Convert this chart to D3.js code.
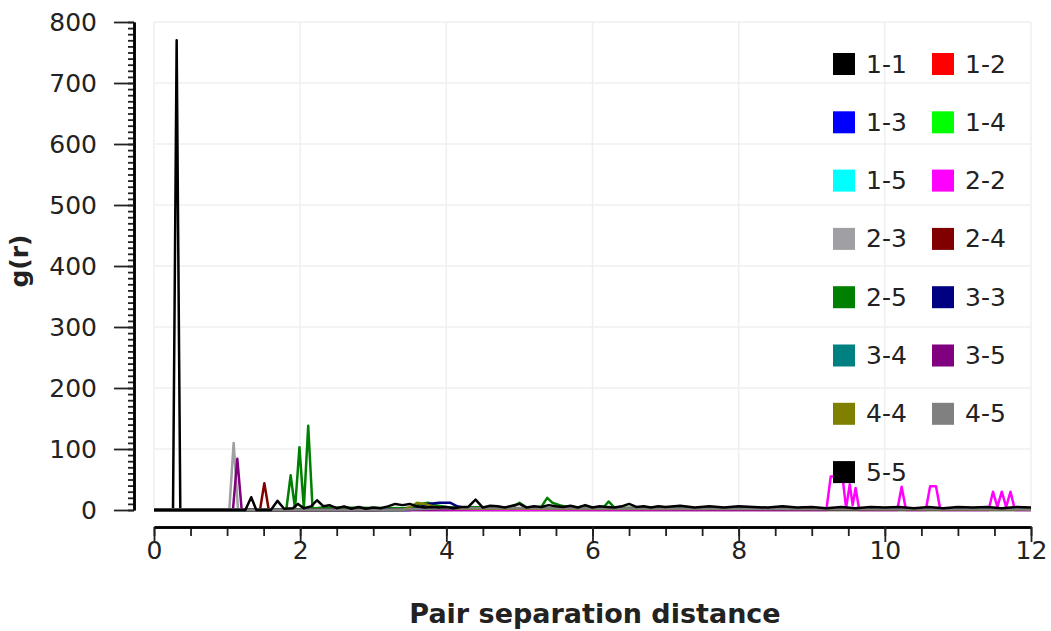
<!DOCTYPE html>
<html lang="en">
<head>
<meta charset="UTF-8">
<title>g(r)</title>
<script src="https://cdn.jsdelivr.net/npm/d3@7"></script>
<style>
  body { margin: 0; background: #fff; }
  text { font-family: "DejaVu Sans", sans-serif; }
</style>
</head>
<body>
<div id="container"></div>
<script>
// pair labels (legend order) and their colours
let pairNames = ["1-1","1-2","1-3","1-4","1-5","2-2","2-3","2-4","2-5","3-3","3-4","3-5","4-4","4-5","5-5"]
let pairColors = ["#000000","#ff0000","#0000ff","#00ff00","#00ffff","#ff00ff","#a0a0a4","#800000",
                  "#008000","#000080","#008080","#800080","#808000","#808080","#000000"]

let xTicks = [0,2,4,6,8,10,12]
let yTicks = [0,100,200,300,400,500,600,700,800]

// [r, g(r)] points
let g11 = [[0,0],[0.26,0],[0.31,770],[0.36,0],[1.2,0],[12,0]]
let g12 = [[0,0],[2.6,0],[3.0,2],[6.0,2],[12,1]]
let g13 = [[0,0],[3.0,0],[3.5,2],[6.0,2],[12,1]]
let g14 = [[0,0],[1.8,0],[2.2,3],[3.5,2],[6.0,3],[12,1]]
let g15 = [[0,0],[3.2,0],[4.0,2],[8.0,2],[12,1]]
let g22 = [[0,0],[9.2,0],[9.26,55],[9.42,55],[9.47,3],[9.52,42],[9.56,8],[9.6,36],[9.65,0],
           [10.17,0],[10.23,38],[10.29,0],[10.56,0],[10.62,39],[10.7,39],[10.76,0],
           [11.42,0],[11.48,30],[11.54,5],[11.6,30],[11.66,5],[11.72,30],[11.78,0],[12,0]]
let g23 = [[0,0],[1.03,0],[1.09,110],[1.15,0],[3.3,0],[3.5,5],[4.0,4],[6.0,3],[12,2]]
let g24 = [[0,0],[1.45,0],[1.51,44],[1.57,0],[3.0,0],[4.0,2],[12,1]]
let g25 = [[0,0],[1.81,0],[1.87,57],[1.93,2],[1.99,103],[2.05,3],[2.11,138],[2.17,2],[2.3,4],
           [3.5,3],[3.65,10],[3.75,12],[3.85,8],[4.0,5],[4.9,4],[5.0,12],[5.1,4],[5.3,5],
           [5.38,20],[5.45,12],[5.55,8],[5.65,5],[6.15,4],[6.22,14],[6.3,4],[7.0,3],[12,2]]
let g33 = [[0,0],[3.5,0],[3.6,3],[3.75,10],[3.9,12],[4.05,12],[4.15,6],[4.3,2],[12,1]]
let g34 = [[0,0],[3.4,0],[4.0,3],[8.0,2],[12,1]]
let g35 = [[0,0],[1.08,0],[1.14,84],[1.2,0],[3.0,0],[5.0,2],[12,1]]
let g44 = [[0,0],[3.4,0],[3.5,4],[3.6,12],[3.7,10],[3.85,5],[4.2,2],[12,1]]
let g45 = [[0,0],[3.2,0],[4.0,3],[8.0,2],[12,1]]
let g55 = [[0,0],[1.25,0],[1.33,21],[1.4,0],[1.6,0],[1.69,15],[1.78,2],[1.9,3],[1.97,10],[2.05,3],
           [2.15,6],[2.23,16],[2.32,6],[2.4,8],[2.5,3],[2.6,6],[2.7,2],[2.8,5],[2.9,2],[3.0,4],
           [3.1,3],[3.2,6],[3.3,10],[3.4,8],[3.5,10],[3.6,6],[3.7,4],[3.8,5],[3.9,4],[4.0,5],
           [4.1,3],[4.2,5],[4.3,5],[4.4,17],[4.5,4],[4.6,7],[4.7,6],[4.8,4],[4.9,7],[5.0,10],
           [5.1,4],[5.2,6],[5.3,5],[5.4,8],[5.5,6],[5.6,5],[5.7,7],[5.8,4],[5.9,8],[6.0,4],
           [6.1,6],[6.2,5],[6.3,4],[6.4,6],[6.5,10],[6.6,5],[6.7,6],[6.8,4],[6.9,6],[7.0,5],
           [7.2,7],[7.4,4],[7.6,6],[7.8,4],[8.0,6],[8.2,5],[8.4,4],[8.6,6],[8.8,4],[9.0,5],
           [9.2,3],[9.4,5],[9.6,3],[9.8,5],[10.0,4],[10.2,5],[10.4,3],[10.6,5],[10.8,3],[11.0,5],
           [11.2,4],[11.4,5],[11.6,3],[11.8,5],[12.0,4]]

let seriesValues = [g11,g12,g13,g14,g15,g22,g23,g24,g25,g33,g34,g35,g44,g45,g55]

let width = 1051
let height = 631

let svg = d3.select('#container')
    .append('svg')
    .attr('width', width)
    .attr('height', height)

let x_axis = d3.scaleLinear().domain([0,12]).range([154,1031])
let y_axis = d3.scaleLinear().domain([0,800]).range([510,22])

// light grid
let grid = svg.append('g').attr('stroke','#efefef').attr('stroke-width',1.5)
grid.selectAll('line.v').data(xTicks).enter().append('line')
    .attr('x1', d => x_axis(d)).attr('x2', d => x_axis(d))
    .attr('y1', y_axis(800)).attr('y2', y_axis(0))
grid.selectAll('line.h').data(yTicks).enter().append('line')
    .attr('x1', x_axis(0)).attr('x2', x_axis(12))
    .attr('y1', d => y_axis(d)).attr('y2', d => y_axis(d))

// curves
let line = d3.line().x(d => x_axis(d[0])).y(d => y_axis(d[1]))
svg.append('g').selectAll('path')
    .data(seriesValues)
    .enter()
    .append('path')
    .attr('d', line)
    .attr('fill', 'none')
    .attr('stroke', (d,i) => pairColors[i])
    .attr('stroke-width', 2.5)
    .attr('stroke-linejoin', 'round')

// x axis (detached below the plot)
let xMinor = d3.range(0, 12.01, 0.5)
svg.append('g')
    .attr('transform','translate(0,527)')
    .call(d3.axisBottom(x_axis).tickValues(xMinor).tickSize(9).tickSizeOuter(0).tickFormat(''))
svg.append('g')
    .attr('class','xmaj')
    .attr('transform','translate(0,527)')
    .call(d3.axisBottom(x_axis).tickValues(xTicks).tickSize(15).tickSizeOuter(0).tickPadding(2))

// y axis (detached left of the plot)
let yMinor = d3.range(0, 801, 10)
svg.append('g')
    .attr('transform','translate(134,0)')
    .call(d3.axisLeft(y_axis).tickValues(yMinor).tickSize(6).tickSizeOuter(0).tickFormat(''))
svg.append('g')
    .attr('transform','translate(134,0)')
    .call(d3.axisLeft(y_axis).tickValues(yTicks).tickSize(20).tickSizeOuter(0).tickPadding(17))

svg.selectAll('.domain').attr('stroke','#000').attr('stroke-width',2.5)
svg.selectAll('.tick line').attr('stroke','#222').attr('stroke-width',1.8)
svg.selectAll('.tick text')
    .style('font-family','"DejaVu Sans", sans-serif')
    .style('font-size','25px')
    .attr('fill','#222')
svg.selectAll('.xmaj .tick text').attr('dy','0.6em')

// axis titles
svg.append('text')
    .attr('x', 595).attr('y', 623)
    .attr('text-anchor','middle')
    .style('font-size','27px').style('font-weight','bold')
    .attr('fill','#222')
    .text('Pair separation distance')
svg.append('text')
    .attr('transform','translate(28,261) rotate(-90)')
    .attr('text-anchor','middle')
    .style('font-size','25px').style('font-weight','bold')
    .attr('fill','#222')
    .text('g(r)')

// legend, two columns
let legend = svg.append('g')
let items = legend.selectAll('g').data(pairNames).enter().append('g')
    .attr('transform', (d,i) => 'translate(' + (833 + (i % 2) * 99) + ',' + (53 + Math.floor(i / 2) * 58.3) + ')')
items.append('rect')
    .attr('width', 22).attr('height', 22)
    .attr('fill', (d,i) => pairColors[i])
items.append('text')
    .attr('x', 33).attr('y', 11)
    .attr('dominant-baseline','central')
    .style('font-size','25px')
    .attr('fill','#222')
    .text(d => d)
</script>
</body>
</html>
